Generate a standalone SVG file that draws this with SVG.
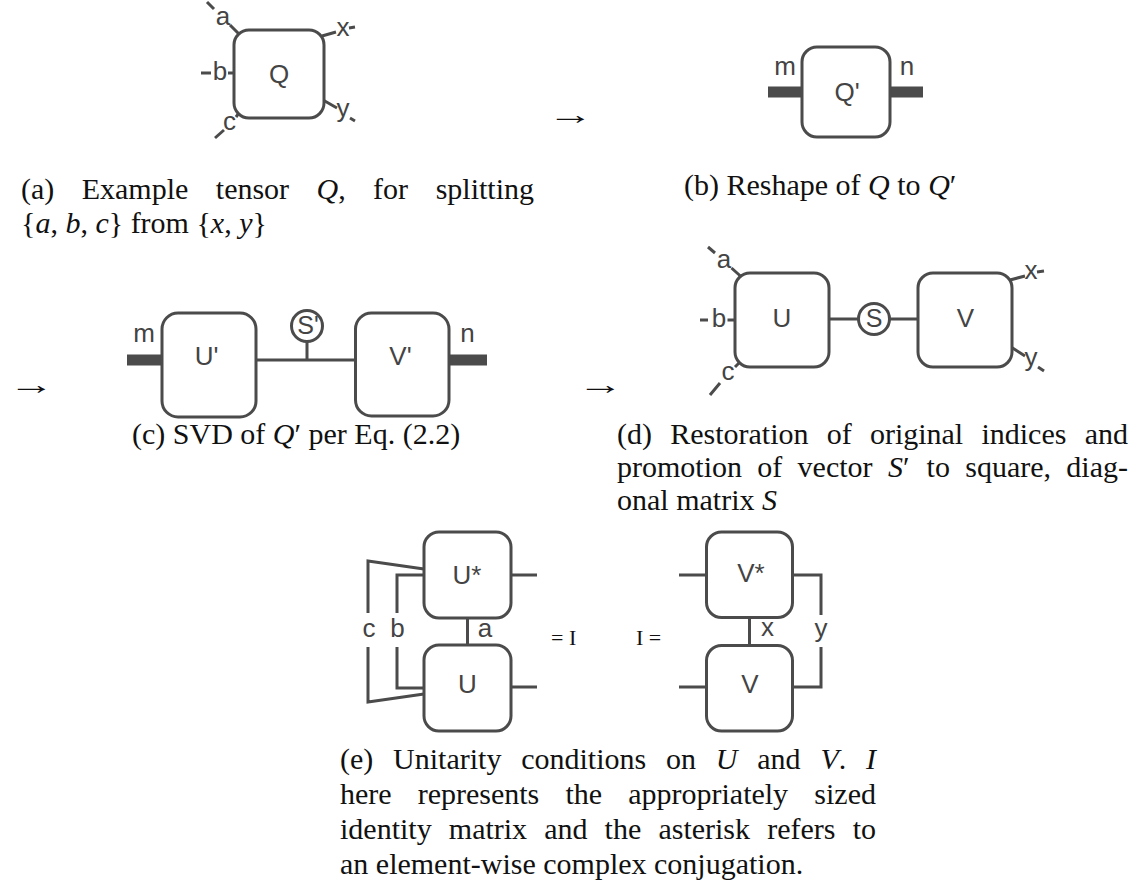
<svg xmlns="http://www.w3.org/2000/svg" width="1136" height="892" viewBox="0 0 1136 892">
<style>
.box{fill:#fff;stroke:#4b4b4b;stroke-width:3}
.ln{fill:none;stroke:#4b4b4b;stroke-width:3}
.th{fill:none;stroke:#4b4b4b;stroke-width:11}
.lb{font-family:"Liberation Sans",Arial,sans-serif;font-size:26px;fill:#444;text-anchor:middle}
.cap{font-family:"Liberation Serif","Times New Roman",serif;font-size:30px;fill:#111}
.arr{font-family:"Liberation Serif","DejaVu Serif",serif;font-size:28px;fill:#111}
.it{font-style:italic}
.end{text-anchor:end}
</style>
<rect width="1136" height="892" fill="#fff"/>

<g id="connectors">
  <!-- (a) legs -->
  <path class="ln" d="M207,2 L214,9 M230,25 L239,34 M201,73 H211 M228,73 H234 M215,138 L224,130 M236,117 L239,113 M322,36 L336,32 M349,28 L355,27 M323,100 L337,108 M350,118 L355,121"/>
  <text class="lb" x="223" y="25">a</text>
  <text class="lb" x="220" y="80">b</text>
  <text class="lb" x="229.5" y="130">c</text>
  <text class="lb" x="343" y="36">x</text>
  <text class="lb" x="343" y="117">y</text>
  <!-- (b) legs -->
  <path class="th" d="M768,92 H802 M890,92 H923"/>
  <text class="lb" x="785" y="75">m</text>
  <text class="lb" x="907" y="75">n</text>
  <!-- (c) legs -->
  <path class="th" d="M127,360 H162 M449,360 H487"/>
  <path class="ln" d="M256,360 H356 M307,341.5 V360"/>
  <text class="lb" x="144" y="342">m</text>
  <text class="lb" x="467.5" y="342">n</text>
  <!-- (d) legs -->
  <path class="ln" d="M829,319 H858.5 M889.5,319 H918 M708,247 L715,253 M731.5,268 L741.5,277 M700,320 H708 M727.5,320 H735 M710,395 L720,383 M735,367 L739,363 M1010,280 L1025,276 M1037,272 L1044,271 M1011,347 L1025,356 M1038,367 L1044,371"/>
  <text class="lb" x="724" y="268">a</text>
  <text class="lb" x="719" y="327">b</text>
  <text class="lb" x="728" y="380">c</text>
  <text class="lb" x="1031" y="279">x</text>
  <text class="lb" x="1031" y="366">y</text>
  <!-- (e) legs -->
  <path class="ln" d="M467.5,618 V645 M511,575 H537 M511,687 H537 M424,575 H397 V613 M397,647 V688 H424 M424,569 L368,561 V613 M368,647 V702 L424,694"/>
  <text class="lb" x="485" y="637">a</text>
  <text class="lb" x="397.5" y="637">b</text>
  <text class="lb" x="369" y="637">c</text>
  <path class="ln" d="M679,575 H706.5 M679,687 H706.5 M749.5,617.5 V645.5 M792.5,575 H821 V615 M821,647 V687 H792.5"/>
  <text class="lb" x="767.5" y="636">x</text>
  <text class="lb" x="821" y="637">y</text>
</g>

<g id="node-Q">
  <rect class="box" x="234" y="30" width="90" height="88" rx="15"/>
  <text class="lb" x="279" y="83">Q</text>
</g>
<g id="node-Qp">
  <rect class="box" x="802" y="47" width="88" height="90" rx="15"/>
  <text class="lb" x="847" y="101">Q'</text>
</g>
<g id="node-Up">
  <rect class="box" x="162" y="313" width="94" height="104" rx="16"/>
  <text class="lb" x="206.5" y="365">U'</text>
</g>
<g id="node-Sp">
  <circle class="box" cx="307" cy="326" r="15.5"/>
  <text class="lb" x="308" y="334" style="font-size:25px">S'</text>
</g>
<g id="node-Vp">
  <rect class="box" x="355.5" y="313" width="93.5" height="103" rx="16"/>
  <text class="lb" x="400.5" y="365">V'</text>
</g>
<g id="node-U">
  <rect class="box" x="735" y="273" width="94" height="94" rx="15"/>
  <text class="lb" x="782" y="327">U</text>
</g>
<g id="node-S">
  <circle class="box" cx="874" cy="319" r="15.5"/>
  <text class="lb" x="874" y="327" style="font-size:25px">S</text>
</g>
<g id="node-V">
  <rect class="box" x="918" y="273" width="94" height="94" rx="15"/>
  <text class="lb" x="965.5" y="327">V</text>
</g>
<g id="node-Ustar">
  <rect class="box" x="424" y="532" width="87" height="86" rx="15"/>
  <text class="lb" x="467" y="584">U*</text>
</g>
<g id="node-U2">
  <rect class="box" x="424" y="645" width="87" height="86" rx="15"/>
  <text class="lb" x="467.5" y="693">U</text>
</g>
<g id="node-Vstar">
  <rect class="box" x="706.5" y="532" width="86" height="85.5" rx="15"/>
  <text class="lb" x="751" y="582">V*</text>
</g>
<g id="node-V2">
  <rect class="box" x="706.5" y="645.5" width="86" height="85.5" rx="15"/>
  <text class="lb" x="750" y="693">V</text>
</g>

<g id="equalities">
  <text class="cap" x="551" y="645" style="font-size:22px">= I</text>
  <text class="cap" x="636" y="645" style="font-size:22px">I =</text>
</g>

<g id="arrows">
  <text class="arr" transform="translate(547,124) scale(1.65,1)">→</text>
  <text class="arr" transform="translate(8,394) scale(1.65,1)">→</text>
  <text class="arr" transform="translate(577,394) scale(1.65,1)">→</text>
</g>

<g id="captions">
  <text class="cap" y="199"><tspan x="21">(a)</tspan><tspan x="81.7">Example</tspan><tspan x="215.8">tensor</tspan><tspan x="316.5" class="it">Q</tspan>,<tspan x="373.1">for</tspan></text>
  <text class="cap end" x="534" y="199">splitting</text>
  <text class="cap" x="21" y="233">{<tspan class="it">a</tspan>, <tspan class="it">b</tspan>, <tspan class="it">c</tspan>} from {<tspan class="it">x</tspan>, <tspan class="it">y</tspan>}</text>

  <text class="cap" x="684" y="195">(b) Reshape of <tspan class="it">Q</tspan> to <tspan class="it">Q</tspan>′</text>

  <text class="cap" x="132" y="444">(c) SVD of <tspan class="it">Q</tspan>′ per Eq. (2.2)</text>

  <text class="cap" y="444"><tspan x="617">(d)</tspan><tspan x="670.2">Restoration</tspan><tspan x="826.7">of</tspan><tspan x="869.9">original</tspan><tspan x="981.4">indices</tspan></text>
  <text class="cap end" x="1128" y="444">and</text>
  <text class="cap" y="477"><tspan x="617">promotion</tspan><tspan x="757.3">of</tspan><tspan x="797.6">vector</tspan><tspan x="888" class="it">S</tspan>′<tspan x="926.6">to</tspan><tspan x="965.3">square,</tspan></text>
  <text class="cap end" x="1128" y="477">diag-</text>
  <text class="cap" x="617" y="510">onal matrix <tspan class="it">S</tspan></text>

  <text class="cap" y="769"><tspan x="340">(e)</tspan><tspan x="393.1">Unitarity</tspan><tspan x="521.2">conditions</tspan><tspan x="666">on</tspan><tspan x="715.8" class="it">U</tspan><tspan x="757.3">and</tspan><tspan x="820.4" class="it">V</tspan>.</text>
  <text class="cap end it" x="876" y="769">I</text>
  <text class="cap" y="804"><tspan x="340">here</tspan><tspan x="417.7">represents</tspan><tspan x="565.4">the</tspan><tspan x="628.2">appropriately</tspan></text>
  <text class="cap end" x="876" y="804">sized</text>
  <text class="cap" y="839"><tspan x="340">identity</tspan><tspan x="448.8">matrix</tspan><tspan x="544.2">and</tspan><tspan x="604.6">the</tspan><tspan x="658.4">asterisk</tspan><tspan x="767.2">refers</tspan></text>
  <text class="cap end" x="876" y="839">to</text>
  <text class="cap" x="340" y="874">an element-wise complex conjugation.</text>
</g>
</svg>
